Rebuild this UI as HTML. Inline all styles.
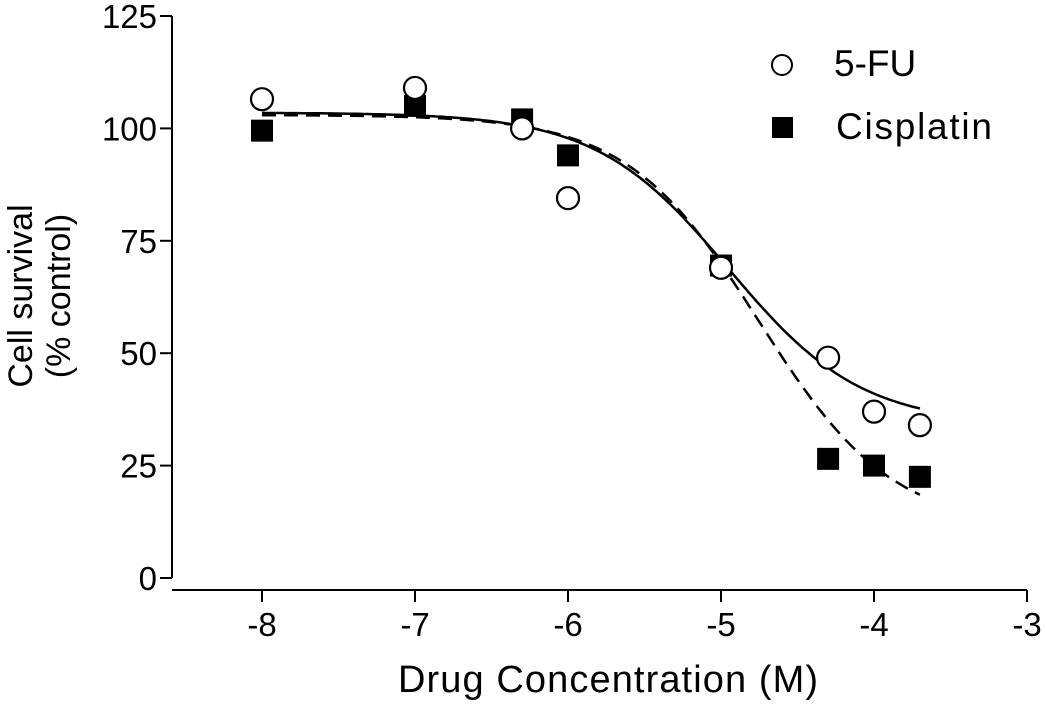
<!DOCTYPE html>
<html><head><meta charset="utf-8"><style>
html,body{margin:0;padding:0;background:#fff;}
svg{display:block;font-family:"Liberation Sans",Arial,sans-serif;}
</style></head><body>
<svg id="chart" width="1045" height="708" viewBox="0 0 1045 708" xmlns="http://www.w3.org/2000/svg">
<g id="axes"></g>
<g id="curves"></g>
<g id="points"></g>
<g>
<circle cx="782" cy="65" r="10" fill="#fff" stroke="#000" stroke-width="2"/>
<text x="834" y="76" font-size="37">5-FU</text>
<rect x="772" y="117" width="21" height="21" fill="#000"/>
<text x="836" y="139" font-size="37" textLength="156">Cisplatin</text>
</g>
<text x="608" y="692" font-size="38" text-anchor="middle" textLength="420">Drug Concentration (M)</text>
<g transform="translate(0,296) rotate(-90)">
<text x="0" y="32" font-size="34" text-anchor="middle">Cell survival</text>
<text x="0" y="70" font-size="34" text-anchor="middle">(% control)</text>
</g>
</svg>
<script>
const xTicks=[-8,-7,-6,-5,-4,-3];
const yTicks=[0,25,50,75,100,125];
const logConc=[-8,-7,-6.3,-6,-5,-4.3,-4,-3.7];
const fuValues=[106.5,109,100,84.5,69,49,37,34];
const cisValues=[99.5,105,102,94,69.5,26.5,25,22.5];
const fuFit=[103.5,34,-4.95,1.0]; // top, bottom, logIC50, hill
const cisFit=[103,11,-4.75,1.0];

const NS="http://www.w3.org/2000/svg";
const X=v=>262+(v+8)*153;
const Y=v=>578-v*4.496;
function mk(tag,attrs,parent){const e=document.createElementNS(NS,tag);for(const k in attrs)e.setAttribute(k,attrs[k]);parent.appendChild(e);return e;}
const axes=document.getElementById('axes');
let e=mk('line',{x1:172,y1:Y(125),x2:172,y2:Y(0),stroke:'#000','stroke-width':2},axes);


e=mk('line',{x1:172,y1:590,x2:X(-3),y2:590,stroke:'#000','stroke-width':2},axes);


yTicks.forEach(t=>{
 const l=mk('line',{x1:160,y1:Y(t),x2:172,y2:Y(t),stroke:'#000','stroke-width':2},axes);
 
 
 const tx=mk('text',{x:157,y:Y(t)+12,'font-size':33,'text-anchor':'end'},axes);
 tx.textContent=t;
 
 
});
xTicks.forEach(t=>{
 const l=mk('line',{x1:X(t),y1:590,x2:X(t),y2:602,stroke:'#000','stroke-width':2},axes);
 
 
 const tx=mk('text',{x:X(t),y:636,'font-size':33,'text-anchor':'middle'},axes);
 tx.textContent=t;
 
 
});
function curve(p,dash,name){
 let d='';
 for(let i=0;i<=200;i++){const x=-8+i*(4.3/200);const y=p[1]+(p[0]-p[1])/(1+Math.pow(10,p[3]*(x-p[2])));d+=(i?'L':'M')+X(x).toFixed(1)+' '+Y(y).toFixed(1);}
 const el=mk('path',{d:d,fill:'none',stroke:'#000','stroke-width':2.5,'stroke-dasharray':dash},document.getElementById('curves'));
 
 
}
curve(fuFit,'none','fit-5fu');
curve(cisFit,'14 8','fit-cisplatin');
const pts=document.getElementById('points');
logConc.forEach((c,i)=>{
 const r=mk('rect',{x:X(c)-11,y:Y(cisValues[i])-11,width:22,height:22,fill:'#000'},pts);
 
 
});
logConc.forEach((c,i)=>{
 const ci=mk('circle',{cx:X(c),cy:Y(fuValues[i]),r:11,fill:'#fff',stroke:'#000','stroke-width':2.2},pts);
 
 
});
</script>
</body></html>
